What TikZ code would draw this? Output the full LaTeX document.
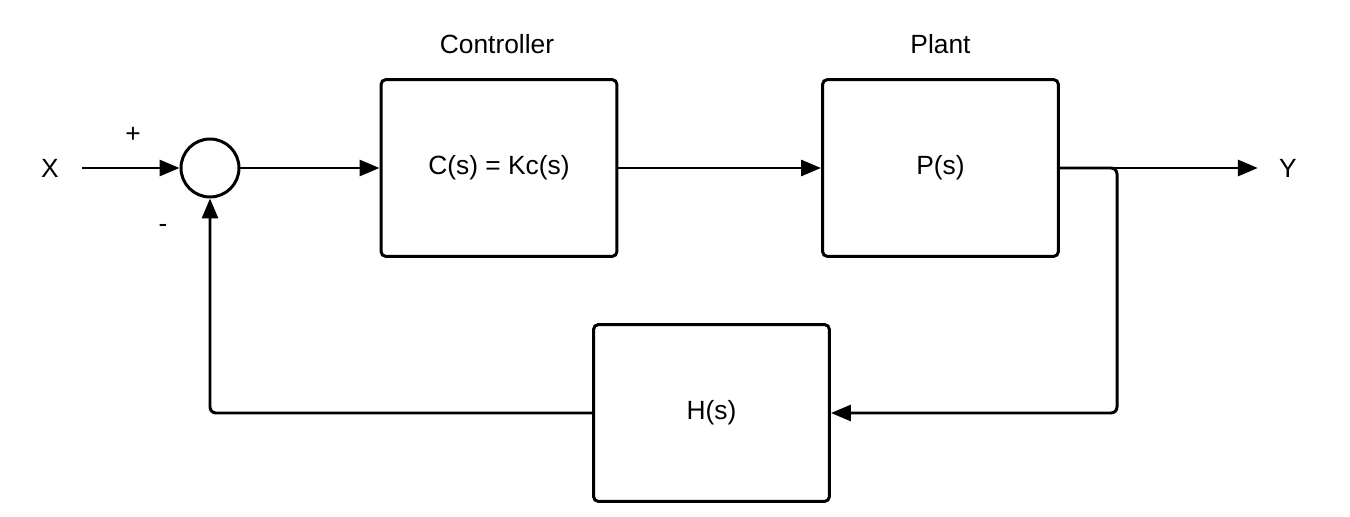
\documentclass[tikz,border=0pt]{standalone}
\usepackage{fontspec}
\setmainfont{Liberation Sans}
\usetikzlibrary{arrows.meta,positioning}

\tikzset{
    block/.style={draw, line width=1.7pt, rounded corners=0.1cm, minimum width=4.72cm, minimum height=3.54cm},
    sumnode/.style={draw, circle, line width=1.7pt, minimum size=1.16cm, inner sep=0pt},
    wire/.style={line width=1.7pt, -{Triangle[length=0.4cm, width=0.32cm]}},
    lbl/.style={inner sep=0pt}
}

\begin{document}
\begin{tikzpicture}[x=0.02cm, y=-0.02cm, font=\fontsize{15}{18}\selectfont]
    \useasboundingbox (0,0) rectangle (1350,517);
    % forward path
    \node[lbl] (x) at (50,168) {X};
    \node[sumnode] (sum) at (210,168) {};
    \node[block] (ctrl) at (499,168) {C(s) = Kc(s)};
    \node[block] (plant) at (940.5,168) {P(s)};
    \node[lbl] (y) at (1288,168) {Y};
    \node[block] (h) at (711.5,413) {H(s)};

    \node[lbl] at (497,44) {Controller};
    \node[lbl] at (940.5,44) {Plant};
    \node[lbl] at (133,135) {+};
    \node[lbl] at (163,228) {-};

    \draw[wire, shorten <=0.46cm] (x.east) -- (sum.west);
    \draw[wire] (sum.east) -- (ctrl.west);
    \draw[wire] (ctrl.east) -- (plant.west);
    \draw[wire, shorten >=0.42cm] (plant.east) -- (y.west);

    % feedback path
    \coordinate (branch) at (1117,168);
    \draw[wire, rounded corners=0.12cm] (plant.east) -- (branch) -- (branch |- h.east) -- (h.east);
    \draw[wire, rounded corners=0.12cm] (h.west) -| (sum.south);
\end{tikzpicture}
\end{document}
